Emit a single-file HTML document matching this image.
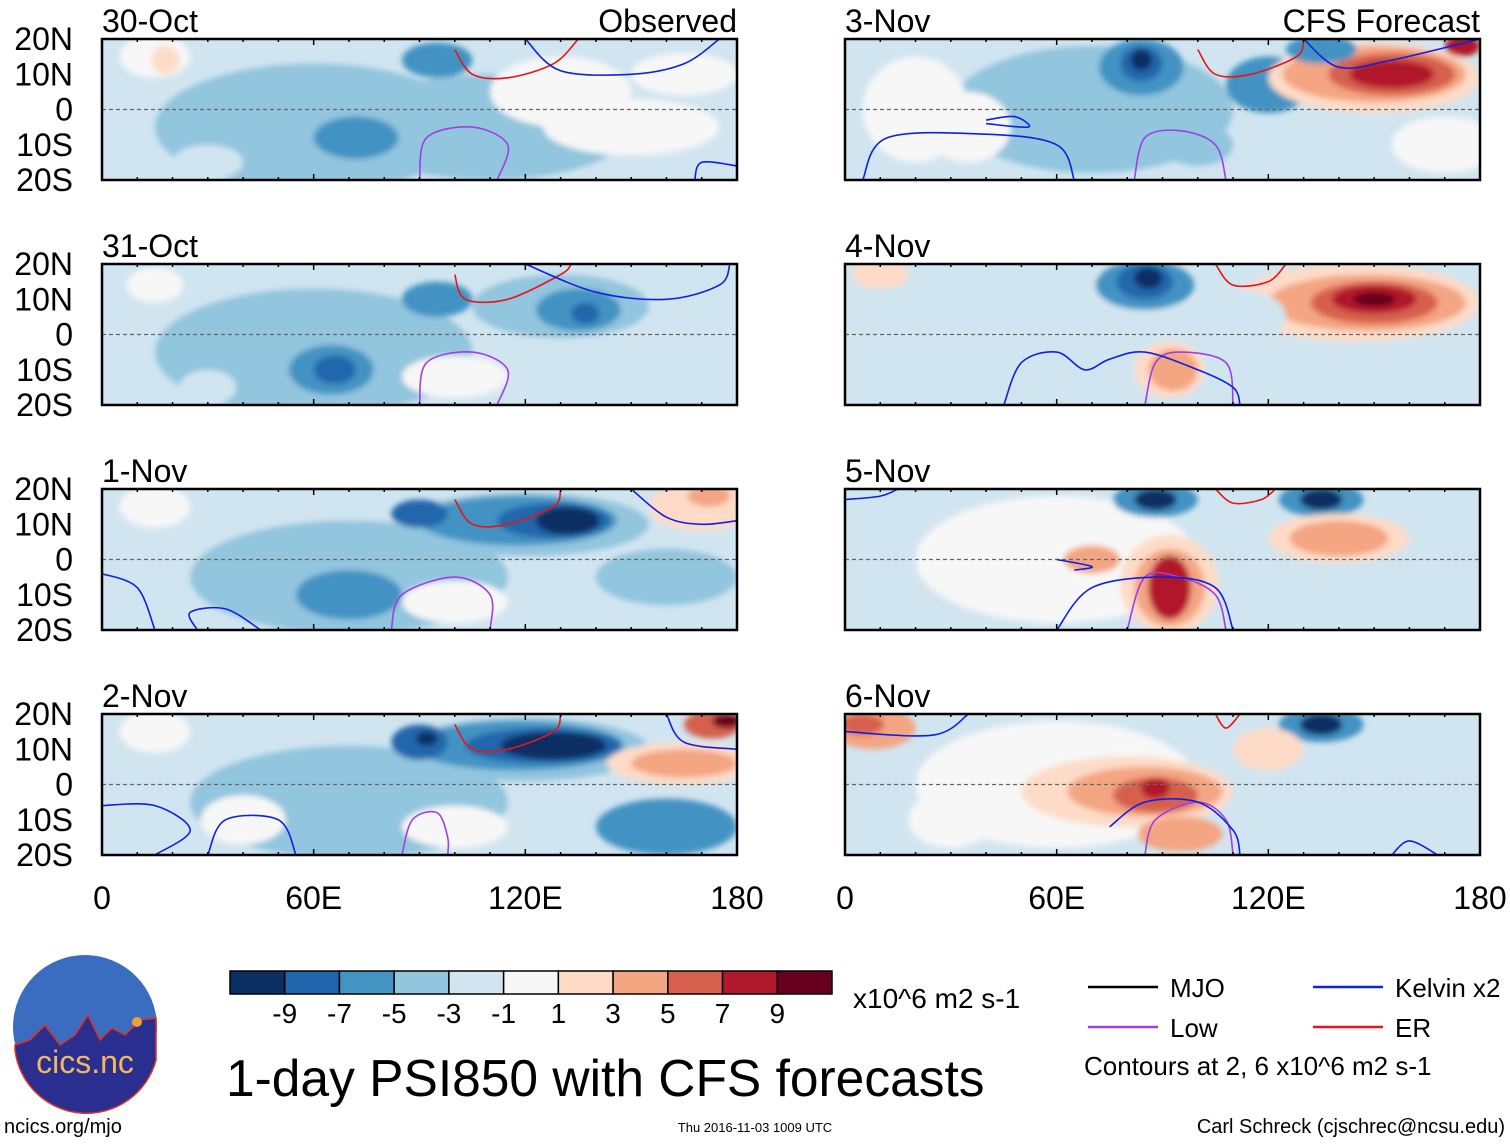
<!DOCTYPE html>
<html><head><meta charset="utf-8">
<style>
html,body{margin:0;padding:0;background:#fff;}
body{width:1510px;height:1142px;overflow:hidden;font-family:"Liberation Sans",sans-serif;}
</style></head>
<body>
<svg id="fig" width="1510" height="1142" xmlns="http://www.w3.org/2000/svg" font-family="Liberation Sans, sans-serif">
<defs>
<filter id="blur" x="-20%" y="-20%" width="140%" height="140%"><feGaussianBlur stdDeviation="3"/></filter>
</defs>
</svg>
<script>
const levelColors = ["#0b2f63","#2166ac","#4393c3","#92c5de","#d1e5f0","#f7f7f7","#fddbc7","#f4a582","#d6604d","#b2182b","#67001f"];
const levelTicks = ["-9","-7","-5","-3","-1","1","3","5","7","9"];
const panelTitles = ["30-Oct","31-Oct","1-Nov","2-Nov","3-Nov","4-Nov","5-Nov","6-Nov"];
const latTicks = ["20N","10N","0","10S","20S"];
const lonTicks = ["0","60E","120E","180"];
// blobs: [lon, lat, rx(deg), ry(deg), level index]
const blobs0 = [[60,-5,45,18,3],[110,-5,40,15,3],[130,5,20,10,5],[72,-8,12,6,2],[95,14,10,5,2],[15,15,10,6,5],[150,-5,25,8,5],[30,-15,10,5,4],[165,10,15,6,5],[18,14,4,4,6]];
const blobs1 = [[60,-5,45,18,3],[130,8,25,9,3],[135,7,12,6,2],[137,6,4,3,1],[65,-10,12,7,2],[66,-10,6,4,1],[95,10,10,5,2],[15,14,8,5,5],[100,-12,15,6,5],[30,-15,8,5,4]];
const blobs2 = [[70,-5,45,16,3],[120,10,35,9,3],[118,11,28,7,2],[128,11,16,5,1],[132,11,9,4,0],[90,13,8,4,1],[70,-10,15,7,2],[170,15,15,7,6],[172,18,6,3,7],[160,-5,20,8,3],[15,15,10,6,5],[100,-12,15,6,5]];
const blobs3 = [[70,-5,45,16,3],[120,10,35,9,3],[118,11,30,7,2],[125,11,22,5,1],[128,11,15,4,0],[90,12,8,5,1],[92,13,3,2,0],[165,6,22,6,6],[165,6,15,4,7],[173,17,8,4,8],[177,18,4,2,10],[160,-12,20,8,2],[15,15,10,6,5],[100,-12,15,6,5],[40,-10,12,7,5]];
const blobs4 = [[70,0,40,18,3],[84,12,12,8,2],[84,13,6,5,1],[84,14,3,3,0],[120,7,12,8,2],[150,9,30,10,6],[150,10,26,8,7],[155,10,18,6,8],[155,10,12,4,9],[175,18,5,3,9],[135,17,10,4,2],[100,-10,10,6,3],[20,0,15,15,5],[170,-10,15,8,5],[35,-5,12,10,5]];
const blobs5 = [[60,0,40,18,4],[85,14,14,7,2],[85,15,8,5,1],[86,16,4,3,0],[145,9,35,11,6],[148,9,28,8,7],[150,9,18,6,8],[150,10,12,4,9],[150,10,6,2,10],[92,-10,10,8,6],[93,-10,7,6,7],[110,5,15,8,4],[10,17,8,4,6],[15,-10,15,8,4]];
const blobs6 = [[60,0,40,18,5],[88,17,12,5,2],[88,17,6,3,0],[135,17,12,5,2],[135,17,6,3,0],[92,-7,14,14,6],[92,-8,10,11,7],[92,-8,6,9,9],[140,6,20,7,6],[140,6,14,5,7],[70,0,8,4,7],[20,14,8,5,4],[150,-12,20,6,4]];
const blobs7 = [[60,0,40,18,5],[135,17,12,5,2],[135,17,6,3,0],[80,-2,30,10,6],[85,-2,22,7,7],[88,-3,12,5,8],[88,-1,4,3,9],[95,-14,12,5,7],[8,16,12,6,7],[5,17,6,3,8],[120,10,10,6,6],[170,-5,10,10,4],[30,-10,12,8,5]];
const allBlobs = [blobs0,blobs1,blobs2,blobs3,blobs4,blobs5,blobs6,blobs7];
// contours: panel index, color key, list of [lon,lat]
const contours = [
 [0,"er",[[100,17],[105,10],[115,9],[128,13],[135,20]]],
 [0,"kel",[[120,20],[130,11],[150,10],[165,13],[175,20]]],
 [0,"low",[[90,-20],[92,-8],[105,-5],[115,-10],[112,-20]]],
 [0,"kel",[[168,-20],[170,-15],[180,-16]]],
 [1,"er",[[100,17],[103,10],[115,10],[130,17],[133,20]]],
 [1,"kel",[[120,20],[140,12],[160,10],[175,14],[178,20]]],
 [1,"low",[[90,-20],[92,-8],[105,-5],[115,-10],[112,-20]]],
 [2,"er",[[100,17],[105,10],[115,10],[128,15],[130,20]]],
 [2,"kel",[[150,20],[160,12],[170,10],[180,11]]],
 [2,"low",[[82,-20],[85,-10],[100,-5],[110,-10],[110,-20]]],
 [2,"kel",[[0,-4],[10,-8],[15,-20]]],
 [2,"kel",[[27,-20],[25,-15],[35,-14],[45,-20]]],
 [3,"er",[[100,17],[105,10],[115,10],[128,15],[130,20]]],
 [3,"kel",[[160,20],[165,12],[180,10]]],
 [3,"low",[[85,-20],[88,-10],[95,-8],[98,-15],[98,-20]]],
 [3,"kel",[[0,-6],[15,-6],[25,-13],[15,-20]]],
 [3,"kel",[[30,-20],[35,-10],[50,-10],[55,-20]]],
 [4,"er",[[100,17],[105,10],[115,10],[128,15],[130,20]]],
 [4,"kel",[[130,20],[140,12],[155,14],[180,20]]],
 [4,"low",[[82,-20],[85,-8],[95,-6],[105,-10],[108,-20]]],
 [4,"kel",[[5,-20],[12,-8],[40,-7],[60,-10],[65,-20]]],
 [4,"kel",[[40,-3],[48,-2],[52,-5],[40,-4]]],
 [5,"er",[[105,20],[110,14],[120,15],[125,20]]],
 [5,"low",[[85,-20],[88,-8],[95,-5],[108,-8],[110,-20]]],
 [5,"kel",[[45,-20],[50,-8],[60,-5],[68,-10],[75,-7],[85,-5],[100,-10],[110,-15],[112,-20]]],
 [6,"er",[[105,20],[110,16],[118,17],[122,20]]],
 [6,"kel",[[0,17],[10,18],[15,20]]],
 [6,"low",[[80,-20],[85,-5],[95,-5],[105,-10],[108,-20]]],
 [6,"kel",[[60,-20],[70,-8],[90,-5],[105,-8],[110,-20]]],
 [6,"kel",[[60,0],[70,-2],[65,-3]]],
 [7,"er",[[105,20],[108,16],[112,20]]],
 [7,"kel",[[0,15],[25,14],[35,20]]],
 [7,"low",[[85,-20],[88,-10],[100,-5],[108,-10],[110,-20]]],
 [7,"kel",[[75,-12],[85,-5],[100,-5],[110,-13],[112,-20]]],
 [7,"kel",[[155,-20],[160,-16],[168,-20]]]
];
const contourColors = {er:"#e8141b",kel:"#1020e0",low:"#a040e0",mjo:"#000"};

const NS="http://www.w3.org/2000/svg";
const svg=document.getElementById("fig");
function el(tag,attrs,parent){const e=document.createElementNS(NS,tag);for(const k in attrs)e.setAttribute(k,attrs[k]);(parent||svg).appendChild(e);return e;}
function txt(x,y,s,size,anchor,parent,fill){const t=el("text",{x:x,y:y,"font-size":size,"text-anchor":anchor||"start",fill:fill||"#000"},parent);t.textContent=s;return t;}
function smooth(pts){
  let d="M"+pts[0][0].toFixed(1)+","+pts[0][1].toFixed(1);
  for(let i=0;i<pts.length-1;i++){
    const p0=pts[Math.max(0,i-1)],p1=pts[i],p2=pts[i+1],p3=pts[Math.min(pts.length-1,i+2)];
    const c1=[p1[0]+(p2[0]-p0[0])/6,p1[1]+(p2[1]-p0[1])/6];
    const c2=[p2[0]-(p3[0]-p1[0])/6,p2[1]-(p3[1]-p1[1])/6];
    d+=" C"+c1.map(v=>v.toFixed(1)).join(",")+" "+c2.map(v=>v.toFixed(1)).join(",")+" "+p2.map(v=>v.toFixed(1)).join(",");
  }
  return d;
}

const PW=635, PH=141;
const colsX=[102,845], rowsY=[39,264,489,714];
panelTitles.forEach((title,i)=>{
  const px=colsX[i<4?0:1], py=rowsY[i%4];
  const lonX=lon=>px+lon/180*PW;
  const latY=lat=>py+(20-lat)/40*PH;
  const g=el("g",{});
  
  
  const cp=el("clipPath",{id:"cp"+i},svg.querySelector("defs"));
  el("rect",{x:px,y:py,width:PW,height:PH},cp);
  const field=el("g",{"clip-path":"url(#cp"+i+")"},g);
  
  
  el("rect",{x:px,y:py,width:PW,height:PH,fill:levelColors[4]},field);
  const fb=el("g",{filter:"url(#blur)"},field);
  allBlobs[i].forEach(b=>{
    const e=el("ellipse",{cx:lonX(b[0]),cy:latY(b[1]),rx:b[2]/180*PW,ry:b[3]/40*PH,fill:levelColors[b[4]]},fb);
    
    
  });
  const eq=el("line",{x1:px,x2:px+PW,y1:latY(0),y2:latY(0),stroke:"#666","stroke-dasharray":"4,3","stroke-width":1.2},field);
  
  
  contours.filter(c=>c[0]===i).forEach(c=>{
    const d=smooth(c[2].map(p=>[lonX(p[0]),latY(p[1])]));
    const p=el("path",{d:d,fill:"none",stroke:contourColors[c[1]],"stroke-width":1.6,"stroke-linejoin":"round"},field);
    
    
  });
  const fr=el("rect",{x:px,y:py,width:PW,height:PH,fill:"none",stroke:"#000","stroke-width":2.5},g);
  
  
  for(let k=0;k<=18;k++){const x=px+k/18*PW;el("line",{x1:x,x2:x,y1:py+PH,y2:py+PH-(k%6?3:6),stroke:"#000","stroke-width":1.5},g);el("line",{x1:x,x2:x,y1:py,y2:py+(k%6?3:6),stroke:"#000","stroke-width":1.5},g);}
  const t=txt(px,py-7,title,32,"start",g);
  
  
  if(i===0){const o=txt(px+PW,py-7,"Observed",32,"end",g);}
  if(i===4){const o=txt(px+PW,py-7,"CFS Forecast",32,"end",g);}
  if(i<4){latTicks.forEach((s,k)=>{const l=txt(73,py+k*PH/4+11,s,32,"end",g);});}
  if(i%4===3){lonTicks.forEach((s,k)=>{const l=txt(px+k*PW/3,py+PH+54,s,32,"middle",g);});}
});

const cb=el("g",{});


const cbX=230,cbW=602,cbY=971,cbH=23,bw=cbW/levelColors.length;
levelColors.forEach((c,k)=>{const r=el("rect",{x:cbX+k*bw,y:cbY,width:bw,height:cbH,fill:c,stroke:"#000","stroke-width":1.5},cb);});
levelTicks.forEach((s,k)=>{const l=txt(cbX+(k+1)*bw,1023,s,28,"middle",cb);});
const un=txt(853,1008,"x10^6 m2 s-1",28,"start",cb);

const lg=el("g",{});


[["MJO","mjo",1088,987],["Low","low",1088,1027],["Kelvin x2","kel",1313,987],["ER","er",1313,1027]].forEach(e=>{
  const ln=el("line",{x1:e[2],x2:e[2]+70,y1:e[3],y2:e[3],stroke:contourColors[e[1]],"stroke-width":2.5},lg);
  
  const t=txt(e[2]+82,e[3]+10,e[0],26,"start",lg);
});
const ct=txt(1084,1075,"Contours at 2, 6 x10^6 m2 s-1",26,"start",lg);

const title=txt(226,1096,"1-day PSI850 with CFS forecasts",51.5,"start");

const u=txt(4,1133,"ncics.org/mjo",20,"start");
const ts=txt(755,1132,"Thu 2016-11-03 1009 UTC",13,"middle");
const au=txt(1505,1133,"Carl Schreck (cjschrec@ncsu.edu)",20,"end");

const logo=el("g",{});

el("circle",{cx:85,cy:1027,r:72,fill:"#3a6cc0"},logo);
el("path",{d:"M15,1045 L30,1040 L45,1025 L60,1045 L75,1035 L88,1015 L100,1040 L112,1028 L125,1035 L140,1020 L156,1018 L156,1060 A72,72 0 0 1 15,1050 Z",fill:"#2a2f8f",stroke:"#e03020","stroke-width":1.5},logo);
el("circle",{cx:137,cy:1022,r:5,fill:"#f0a030"},logo);
const lt=txt(85,1073,"cics.nc",32,"middle",logo,"#f2b860");
</script>
</body></html>
